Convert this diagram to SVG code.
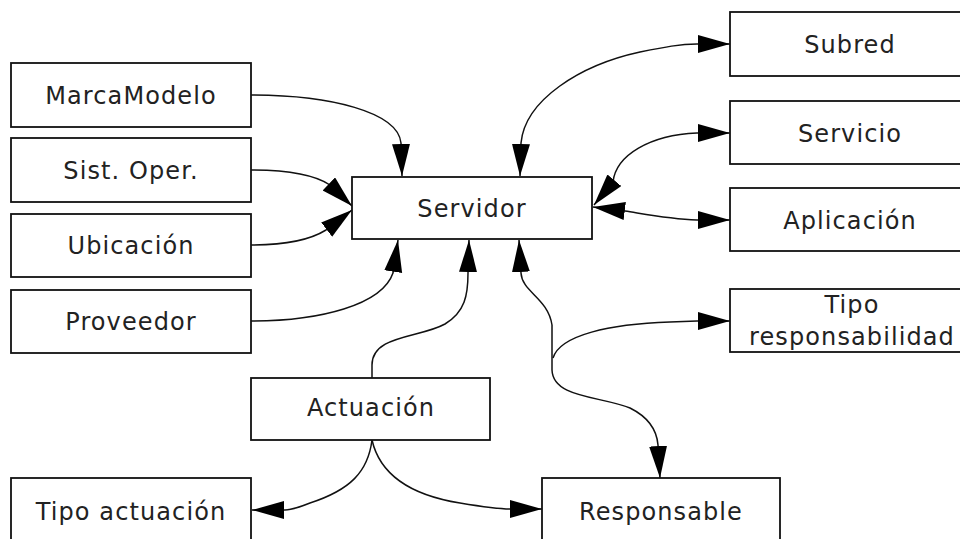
<svg xmlns="http://www.w3.org/2000/svg" width="960" height="539" viewBox="0 0 960 539">
<style>
.box{fill:#fff;stroke:#111;stroke-width:1.8}
.lbl{font-family:"DejaVu Sans",sans-serif;font-size:24px;letter-spacing:1.1px;fill:#222;text-anchor:middle}
.edge{fill:none;stroke:#111;stroke-width:1.5}
</style>
<defs>
<marker id="ah" markerUnits="userSpaceOnUse" markerWidth="34" markerHeight="20" refX="32" refY="9" orient="auto-start-reverse" viewBox="0 0 34 20">
<path d="M0,0 L32,9 L0,18 z" fill="#000"/>
</marker>
</defs>
<rect width="960" height="539" fill="#fff"/>
<g id="connectors">
<path class="edge" marker-end="url(#ah)" d="M251,95 C330,95 398,112 401,143 L402,176"/>
<path class="edge" marker-end="url(#ah)" d="M251,170 C292,170 315,175 330,185 L352,206"/>
<path class="edge" marker-end="url(#ah)" d="M251,245 C288,245 310,240 326,230 L352,210"/>
<path class="edge" marker-end="url(#ah)" d="M251,321 C320,321 382,305 393,273 L398,240"/>
<path class="edge" marker-end="url(#ah)" d="M372,378 L372,365 C372,335 420,338 445,324 C465,312 468,295 468,273 L469,240"/>
<path class="edge" marker-start="url(#ah)" marker-end="url(#ah)" d="M519,240 L521,273 C522,292 548,298 552,325 L552,370 C553,398 600,396 630,408 C650,418 657,432 658,445 L660,478"/>
<path class="edge" marker-end="url(#ah)" d="M553,358 C560,335 610,324 670,322 L697,321 L730,321"/>
<path class="edge" marker-end="url(#ah)" d="M372,440 C368,472 350,490 310,503 C300,507 292,510 285,510 L252,510"/>
<path class="edge" marker-end="url(#ah)" d="M372,440 C380,475 410,495 460,503 C490,508 500,509 510,509 L542,509"/>
<path class="edge" marker-start="url(#ah)" marker-end="url(#ah)" d="M520,176 L521,143 C525,100 580,65 640,52 C665,47 680,44 697,44 L730,44"/>
<path class="edge" marker-start="url(#ah)" marker-end="url(#ah)" d="M594,205 L613,182 C616,155 650,135 697,133 L730,133"/>
<path class="edge" marker-start="url(#ah)" marker-end="url(#ah)" d="M593,207 L625,211 C650,215 670,219 697,220 L730,220"/>
</g>
<g id="MarcaModelo"><rect class="box" x="11" y="63" width="240" height="64"/><text class="lbl" x="131" y="104">MarcaModelo</text></g>
<g id="SistOper"><rect class="box" x="11" y="138" width="240" height="64"/><text class="lbl" x="131" y="179">Sist. Oper.</text></g>
<g id="Ubicacion"><rect class="box" x="11" y="214" width="240" height="63"/><text class="lbl" x="131" y="254">Ubicación</text></g>
<g id="Proveedor"><rect class="box" x="11" y="290" width="240" height="63"/><text class="lbl" x="131" y="330">Proveedor</text></g>
<g id="Servidor"><rect class="box" x="352" y="177" width="240" height="62"/><text class="lbl" x="472" y="217">Servidor</text></g>
<g id="Subred"><rect class="box" x="730" y="12" width="240" height="64"/><text class="lbl" x="850" y="53">Subred</text></g>
<g id="Servicio"><rect class="box" x="730" y="101" width="240" height="63"/><text class="lbl" x="850" y="142">Servicio</text></g>
<g id="Aplicacion"><rect class="box" x="730" y="188" width="240" height="63"/><text class="lbl" x="850" y="229">Aplicación</text></g>
<g id="TipoResponsabilidad"><rect class="box" x="730" y="289" width="240" height="63"/><text class="lbl" x="852" y="313">Tipo</text><text class="lbl" x="852" y="345">responsabilidad</text></g>
<g id="Actuacion"><rect class="box" x="251" y="378" width="239" height="62"/><text class="lbl" x="371" y="416">Actuación</text></g>
<g id="TipoActuacion"><rect class="box" x="11" y="478" width="240" height="70"/><text class="lbl" x="131" y="520">Tipo actuación</text></g>
<g id="Responsable"><rect class="box" x="542" y="478" width="238" height="70"/><text class="lbl" x="661" y="520">Responsable</text></g>
</svg>
